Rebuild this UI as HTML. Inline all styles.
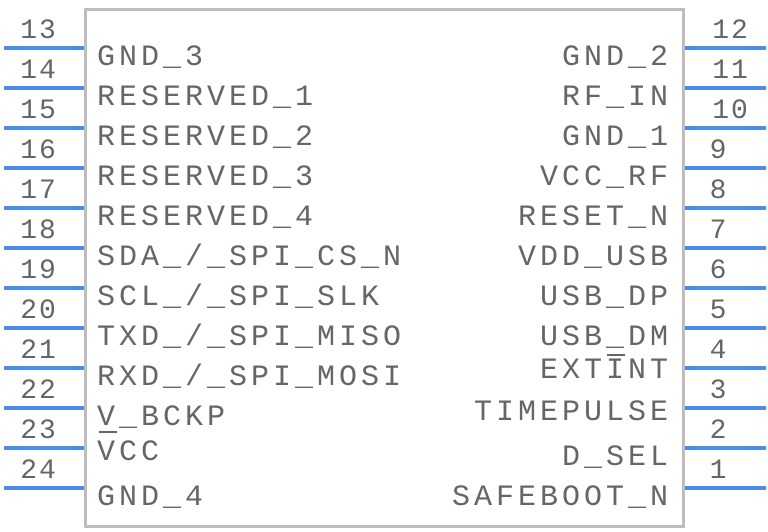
<!DOCTYPE html>
<html><head><meta charset="utf-8"><style>html,body{margin:0;padding:0;background:#fff}svg{display:block}</style></head><body>
<svg width="768" height="532" xmlns="http://www.w3.org/2000/svg" font-family="Liberation Mono, monospace" fill="#666">
<rect x="85.5" y="9.5" width="598" height="517" fill="#fff" stroke="#bdbdbd" stroke-width="3"/>
<g stroke="#4a8ce8" stroke-width="4">
<line x1="4" y1="48" x2="84" y2="48"/><line x1="4" y1="88" x2="84" y2="88"/><line x1="4" y1="128" x2="84" y2="128"/><line x1="4" y1="168" x2="84" y2="168"/><line x1="4" y1="208" x2="84" y2="208"/><line x1="4" y1="248" x2="84" y2="248"/><line x1="4" y1="288" x2="84" y2="288"/><line x1="4" y1="328" x2="84" y2="328"/><line x1="4" y1="368" x2="84" y2="368"/><line x1="4" y1="408" x2="84" y2="408"/><line x1="4" y1="448" x2="84" y2="448"/><line x1="4" y1="488" x2="84" y2="488"/>
<line x1="685" y1="48" x2="766" y2="48"/><line x1="685" y1="88" x2="766" y2="88"/><line x1="685" y1="128" x2="766" y2="128"/><line x1="685" y1="168" x2="766" y2="168"/><line x1="685" y1="208" x2="766" y2="208"/><line x1="685" y1="248" x2="766" y2="248"/><line x1="685" y1="288" x2="766" y2="288"/><line x1="685" y1="328" x2="766" y2="328"/><line x1="685" y1="368" x2="766" y2="368"/><line x1="685" y1="408" x2="766" y2="408"/><line x1="685" y1="448" x2="766" y2="448"/><line x1="685" y1="488" x2="766" y2="488"/>
</g>
<g font-size="28" text-anchor="middle" letter-spacing="2">
<text x="39" y="38">13</text><text x="39" y="78">14</text><text x="39" y="118">15</text><text x="39" y="158">16</text><text x="39" y="198">17</text><text x="39" y="238">18</text><text x="39" y="278">19</text><text x="39" y="318">20</text><text x="39" y="358">21</text><text x="39" y="398">22</text><text x="39" y="438">23</text><text x="39" y="478">24</text>
<text x="731" y="38">12</text><text x="731" y="78">11</text><text x="731" y="118">10</text><text x="719" y="158">9</text><text x="719" y="198">8</text><text x="719" y="238">7</text><text x="719" y="278">6</text><text x="719" y="318">5</text><text x="719" y="358">4</text><text x="719" y="398">3</text><text x="719" y="438">2</text><text x="719" y="478">1</text>
</g>
<g font-size="30" letter-spacing="4">
<text x="97" y="65">GND_3</text><text x="97" y="105">RESERVED_1</text><text x="97" y="145">RESERVED_2</text><text x="97" y="185">RESERVED_3</text><text x="97" y="225">RESERVED_4</text><text x="97" y="265">SDA_/_SPI_CS_N</text><text x="97" y="305">SCL_/_SPI_SLK</text><text x="97" y="345">TXD_/_SPI_MISO</text><text x="97" y="385">RXD_/_SPI_MOSI</text><text x="97" y="425">V_BCKP</text><text x="97" y="460">VCC</text><text x="97" y="505">GND_4</text>
</g>
<g font-size="30" letter-spacing="4" text-anchor="end">
<text x="672" y="65">GND_2</text><text x="672" y="105">RF_IN</text><text x="672" y="145">GND_1</text><text x="672" y="185">VCC_RF</text><text x="672" y="225">RESET_N</text><text x="672" y="265">VDD_USB</text><text x="672" y="305">USB_DP</text><text x="672" y="345">USB_DM</text><text x="672" y="378">EXTINT</text><text x="672" y="420">TIMEPULSE</text><text x="672" y="465">D_SEL</text><text x="672" y="505">SAFEBOOT_N</text>
</g>
<line x1="607" y1="355" x2="625" y2="355" stroke="#666" stroke-width="2"/>
<line x1="99" y1="432" x2="117" y2="432" stroke="#666" stroke-width="2"/>
</svg>
</body></html>
